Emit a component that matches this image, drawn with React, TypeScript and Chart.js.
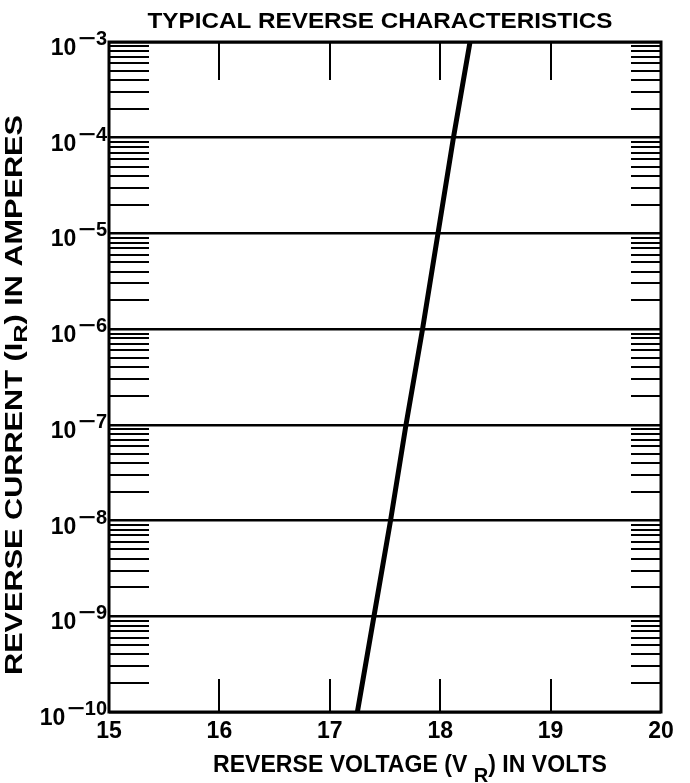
import React, { useEffect, useRef } from "react";
import { Chart, registerables } from "chart.js";

Chart.register(...registerables);

// ---- data ----
const reverseVoltage = [17.25, 17.4, 17.55, 17.69, 17.84, 17.98, 18.12, 18.27];
const reverseCurrent = [1e-10, 1e-9, 1e-8, 1e-7, 1e-6, 1e-5, 1e-4, 1e-3];
const xTickValues = [15, 16, 17, 18, 19, 20];
const xInnerTicks = [16, 17, 18, 19];
const yDecadeExponents = [-10, -9, -8, -7, -6, -5, -4, -3];
const minorMultipliers = [2, 3, 4, 5, 6, 7, 8, 9];
const chartTitle = "TYPICAL REVERSE CHARACTERISTICS";
const xTitleParts = [
  { text: "REVERSE VOLTAGE (V ", sub: false },
  { text: "R", sub: true },
  { text: ") IN VOLTS", sub: false },
];
const yTitleParts = [
  { text: "REVERSE CURRENT (I", sub: false },
  { text: "R", sub: true },
  { text: ") IN AMPERES", sub: false },
];

const FONT = '"Liberation Sans", Arial, sans-serif';

type Part = { text: string; sub: boolean };

function drawParts(
  ctx: CanvasRenderingContext2D,
  parts: Part[],
  size: number,
  subSize: number,
  subOffset: number,
  targetWidth: number
) {
  const mainFont = `bold ${size}px ${FONT}`;
  const subFont = `bold ${subSize}px ${FONT}`;
  const widths: number[] = [];
  let total = 0;
  parts.forEach((p) => {
    ctx.font = p.sub ? subFont : mainFont;
    const w = ctx.measureText(p.text).width;
    widths.push(w);
    total += w;
  });
  const sx = targetWidth / total;
  ctx.save();
  ctx.scale(sx, 1);
  ctx.fillStyle = "#000";
  ctx.textAlign = "left";
  ctx.textBaseline = "alphabetic";
  let x = -total / 2;
  parts.forEach((p, i) => {
    ctx.font = p.sub ? subFont : mainFont;
    ctx.fillText(p.text, x, p.sub ? subOffset : 0);
    x += widths[i];
  });
  ctx.restore();
}

const decorPlugin = {
  id: "decor",
  beforeDatasetsDraw(chart: any) {
    const ctx: CanvasRenderingContext2D = chart.ctx;
    const { left, right, top, bottom } = chart.chartArea;
    const ys = chart.scales.y;
    const xs = chart.scales.x;
    ctx.save();
    ctx.strokeStyle = "#000";
    // minor ticks on left and right edges
    ctx.lineWidth = 2;
    yDecadeExponents.slice(0, -1).forEach((e) => {
      minorMultipliers.forEach((m) => {
        const y = Math.round(ys.getPixelForValue(m * Math.pow(10, e)));
        ctx.beginPath();
        ctx.moveTo(left, y);
        ctx.lineTo(left + 40, y);
        ctx.moveTo(right - 30, y);
        ctx.lineTo(right, y);
        ctx.stroke();
      });
    });
    // inner x ticks, top and bottom
    ctx.lineWidth = 2;
    xInnerTicks.forEach((v) => {
      const x = Math.round(xs.getPixelForValue(v));
      ctx.beginPath();
      ctx.moveTo(x, top);
      ctx.lineTo(x, top + 38);
      ctx.moveTo(x, bottom);
      ctx.lineTo(x, bottom - 33);
      ctx.stroke();
    });
    // frame
    ctx.lineWidth = 3;
    ctx.strokeRect(left, top, right - left, bottom - top);
    ctx.restore();
  },
  afterDraw(chart: any) {
    const ctx: CanvasRenderingContext2D = chart.ctx;
    const { left } = chart.chartArea;
    const ys = chart.scales.y;
    ctx.save();
    ctx.fillStyle = "#000";
    // y tick labels 10^-n
    yDecadeExponents.forEach((e) => {
      const y = ys.getPixelForValue(Math.pow(10, e));
      const digits = String(Math.abs(e));
      ctx.textBaseline = "alphabetic";
      ctx.textAlign = "left";
      ctx.font = `bold 20px ${FONT}`;
      const dW = ctx.measureText(digits).width;
      const mW = ctx.measureText("\u2212").width * 1.5;
      const xr = left - 2;
      ctx.fillText(digits, xr - dW, y + 3);
      ctx.save();
      ctx.translate(xr - dW - mW, y + 3);
      ctx.scale(1.5, 1);
      ctx.fillText("\u2212", 0, 0);
      ctx.restore();
      ctx.font = `bold 23px ${FONT}`;
      ctx.textAlign = "right";
      ctx.fillText("10", xr - dW - mW - 2, y + 13);
    });
    // main title
    ctx.save();
    ctx.translate(380, 28);
    drawParts(ctx, [{ text: chartTitle, sub: false }], 22, 22, 0, 465);
    ctx.restore();
    // x title
    ctx.save();
    ctx.translate(410, 772);
    drawParts(ctx, xTitleParts, 23, 20, 10, 394);
    ctx.restore();
    // y title
    ctx.save();
    ctx.translate(22, 395);
    ctx.rotate(-Math.PI / 2);
    drawParts(ctx, yTitleParts, 23, 19, 5, 560);
    ctx.restore();
    ctx.restore();
  },
};

export default function App() {
  const ref = useRef<HTMLCanvasElement | null>(null);
  useEffect(() => {
    document.body.style.margin = "0";
    const canvas = ref.current!;
    const chart = new Chart(canvas, {
      type: "line",
      data: {
        datasets: [
          {
            data: reverseVoltage.map((v, i) => ({ x: v, y: reverseCurrent[i] })),
            borderColor: "#000",
            borderWidth: 5,
            pointRadius: 0,
            tension: 0,
            fill: false,
          },
        ],
      },
      options: {
        responsive: false,
        animation: false,
        devicePixelRatio: 1,
        layout: { padding: { top: 42, right: 29, left: 0, bottom: 0 } },
        plugins: { legend: { display: false }, tooltip: { enabled: false }, title: { display: false } },
        scales: {
          x: {
            type: "linear",
            min: 15,
            max: 20,
            afterBuildTicks: (s: any) => {
              s.ticks = xTickValues.map((v) => ({ value: v }));
            },
            afterFit: (s: any) => {
              s.height = 71;
            },
            grid: { display: false, drawTicks: false },
            border: { display: false },
            ticks: {
              color: "#000",
              font: { family: FONT, size: 23, weight: "bold" },
              padding: 6,
              maxRotation: 0,
              autoSkip: false,
              callback: (v: any) => String(v),
            },
          },
          y: {
            type: "logarithmic",
            min: 1e-10,
            max: 1e-3,
            afterBuildTicks: (s: any) => {
              s.ticks = yDecadeExponents.map((e) => ({ value: Math.pow(10, e) }));
            },
            afterFit: (s: any) => {
              s.width = 109;
            },
            grid: { color: "#000", lineWidth: 2.5, drawTicks: false },
            border: { display: false },
            ticks: { display: false },
          },
        },
      },
      plugins: [decorPlugin],
    } as any);
    return () => chart.destroy();
  }, []);
  return (
    <div style={{ width: 690, height: 783 }}>
      <canvas ref={ref} width={690} height={783} />
    </div>
  );
}
